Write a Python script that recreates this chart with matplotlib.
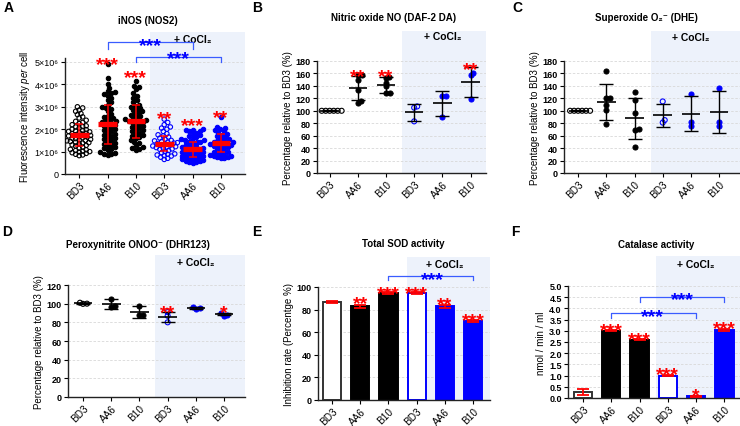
import numpy as np
import matplotlib.pyplot as plt
from matplotlib.patches import Rectangle

plt.rcParams['font.family'] = ['Liberation Sans', 'DejaVu Sans']
plt.rcParams['mathtext.fontset'] = 'custom'
plt.rcParams['mathtext.rm'] = 'Liberation Sans'
plt.rcParams['mathtext.it'] = 'Liberation Sans:italic'
plt.rcParams['mathtext.bf'] = 'Liberation Sans:bold'

BLUE = "#0000ff"
RED = "#ff0000"
SHADE = "#edf2fb"
GRID = "#d8d8d8"
BRACKET = "#3a5cff"

GROUPS = ["BD3", "AA6", "B10", "BD3", "AA6", "B10"]
FACES = ["none", "k", "k", "none", BLUE, BLUE]
EDGES = ["k", "k", "k", BLUE, BLUE, BLUE]

# ---- A: iNOS fluorescence per cell (x10^6) ----
A_BD3 = [0.82, 0.85, 0.88, 0.92, 0.95, 0.98, 1.0, 1.02, 1.05, 1.08, 1.1, 1.15, 1.2,
         1.25, 1.28, 1.3, 1.35, 1.38, 1.4, 1.42, 1.45, 1.48, 1.5, 1.52, 1.55, 1.58,
         1.6, 1.62, 1.65, 1.68, 1.7, 1.72, 1.75, 1.78, 1.8, 1.82, 1.85, 1.88, 1.9,
         1.92, 1.95, 1.98, 2.0, 2.05, 2.1, 2.12, 2.15, 2.2, 2.25, 2.3, 2.35, 2.4,
         2.5, 2.55, 2.65, 2.7, 2.8, 2.85, 2.95, 3.0]
A_AA6 = [4.9, 4.3, 4.0, 3.85, 3.7, 3.65, 3.6, 3.55, 3.5, 3.4, 3.3, 3.2, 3.1, 3.0,
         2.95, 2.9, 2.8, 2.7, 2.6, 2.55, 2.5, 2.45, 2.4, 2.35, 2.3, 2.28, 2.25, 2.2,
         2.15, 2.1, 2.05, 2.0, 1.95, 1.9, 1.85, 1.8, 1.75, 1.7, 1.65, 1.6, 1.55, 1.5,
         1.45, 1.4, 1.35, 1.3, 1.25, 1.2, 1.15, 1.1, 1.05, 1.0, 0.95, 0.9, 0.88, 0.86]
A_B10 = [4.15, 3.95, 3.9, 3.8, 3.6, 3.5, 3.4, 3.3, 3.2, 3.1, 3.05, 3.0, 2.95, 2.9,
         2.85, 2.8, 2.75, 2.7, 2.65, 2.6, 2.55, 2.5, 2.45, 2.42, 2.4, 2.38, 2.35,
         2.32, 2.3, 2.25, 2.2, 2.15, 2.1, 2.05, 2.0, 1.95, 1.9, 1.85, 1.8, 1.75, 1.7,
         1.65, 1.6, 1.5, 1.45, 1.4, 1.3, 1.2, 1.15, 1.1, 1.05]
A_BD3_CO = [2.45, 2.3, 2.2, 2.1, 2.05, 2.0, 1.9, 1.8, 1.75, 1.7, 1.65, 1.6, 1.55,
            1.5, 1.48, 1.45, 1.42, 1.4, 1.38, 1.35, 1.32, 1.3, 1.28, 1.25, 1.22, 1.2,
            1.18, 1.15, 1.12, 1.1, 1.05, 1.0, 0.95, 0.9, 0.88, 0.85, 0.82, 0.8, 0.75,
            0.7, 0.65]
A_AA6_CO = [2.0, 1.98, 1.95, 1.92, 1.9, 1.85, 1.8, 1.75, 1.7, 1.65, 1.6, 1.55, 1.52,
            1.5, 1.48, 1.45, 1.42, 1.4, 1.35, 1.3, 1.25, 1.2, 1.18, 1.15, 1.12, 1.1,
            1.08, 1.05, 1.02, 1.0, 0.98, 0.95, 0.92, 0.9, 0.88, 0.85, 0.82, 0.8, 0.78,
            0.75, 0.72, 0.7, 0.68, 0.65, 0.62, 0.6, 0.58, 0.55, 0.52, 0.5]
A_B10_CO = [2.55, 2.1, 2.05, 2.0, 1.95, 1.9, 1.85, 1.8, 1.75, 1.7, 1.65, 1.6, 1.55,
            1.5, 1.48, 1.45, 1.42, 1.4, 1.38, 1.35, 1.32, 1.3, 1.28, 1.25, 1.22, 1.2,
            1.15, 1.1, 1.05, 1.0, 0.98, 0.95, 0.9, 0.88, 0.85, 0.82, 0.8, 0.78, 0.75,
            0.72, 0.7]
A_POINTS = [A_BD3, A_AA6, A_B10, A_BD3_CO, A_AA6_CO, A_B10_CO]
A_MEAN = [1.74, 2.22, 2.35, 1.35, 1.10, 1.38]
A_SD = [0.48, 0.88, 0.74, 0.33, 0.35, 0.41]
A_YTICKS = [0, 1, 2, 3, 4, 5]
A_YTICKLABELS = ["0", "1×10⁶", "2×10⁶", "3×10⁶", "4×10⁶", "5×10⁶"]

# ---- B: nitric oxide, % of BD3 ----
B_POINTS = [[100, 100, 100, 100, 100, 100],
            [157, 157, 149, 133, 116, 113],
            [155, 153, 145, 140, 128, 128],
            [107, 105, 83],
            [124, 124, 90],
            [161, 158, 119]]
B_MEAN = [100, 137, 141, 97.5, 112, 146]
B_SD = [0.5, 19.5, 13, 13.5, 20, 24]

# ---- C: superoxide, % of BD3 ----
C_POINTS = [[100, 100, 100, 100, 100, 100],
            [164, 121, 120, 109, 101, 79],
            [130, 118, 96, 70, 69, 42],
            [115, 85, 81],
            [127, 82, 76],
            [136, 82, 75]]
C_MEAN = [100, 114, 88, 93, 95, 98]
C_SD = [0.5, 29, 33, 18.5, 28, 34]

# ---- D: peroxynitrite, % of BD3 ----
D_POINTS = [[101, 100, 99.8],
            [105, 97, 96.5],
            [97, 88, 88],
            [91, 87, 80],
            [96.5, 95, 94.5],
            [89.5, 88, 87]]
D_MEAN = [100.3, 99.5, 91, 85.5, 95.2, 88.6]
D_SD = [0.8, 5, 6, 5.5, 1, 1]

# ---- E: total SOD activity ----
E_VALUES = [87, 83, 94.5, 94.5, 83, 70]
E_ERR = [1, 1.5, 1, 1, 1.2, 0.6]

# ---- F: catalase activity ----
F_VALUES = [0.27, 3.0, 2.6, 1.0, 0.07, 3.04]
F_ERR = [0.13, 0.02, 0.02, 0.02, 0.04, 0.04]

W, H = 740, 427
fig = plt.figure(figsize=(W / 100, H / 100), dpi=100)


def add_ax(left, right, top, bottom):
    return fig.add_axes([left / W, 1 - bottom / H, (right - left) / W, (bottom - top) / H])


def style(ax, xlim, ylim, yticks, shade_from, shade_top, bold=True):
    ax.set_xlim(*xlim)
    ax.set_ylim(*ylim)
    ax.set_yticks(yticks)
    for s in ("top", "right"):
        ax.spines[s].set_visible(False)
    for s in ("left", "bottom"):
        ax.spines[s].set_linewidth(1.0)
        ax.spines[s].set_color("#222222")
    ax.tick_params(axis="both", length=3, width=0.8, labelsize=6.5, pad=1.5)
    ax.tick_params(axis="x", pad=1)
    ax.set_xticks(range(6))
    ax.set_xticklabels(GROUPS, rotation=45, ha="right", va="top",
                       rotation_mode="anchor", fontsize=7.2)
    ax.yaxis.grid(True, color=GRID, ls=(0, (3, 2)), lw=0.6)
    ax.set_axisbelow(True)
    if bold:
        for lbl in ax.get_yticklabels():
            lbl.set_fontweight("bold")
    ax.add_patch(Rectangle((shade_from, 0), xlim[1] - shade_from, shade_top,
                           transform=ax.get_xaxis_transform(), clip_on=False,
                           facecolor=SHADE, edgecolor="none", zorder=0.1))


def cocl(ax, y):
    ax.text(4, y, "+ CoCl₂", transform=ax.get_xaxis_transform(), ha="center",
            va="center", fontsize=7.5, fontweight="bold")


def stars(ax, x, y, s, color=RED, size=14):
    ax.annotate(s, (x, y), xytext=(0, -0.58 * size), textcoords="offset points",
                ha="center", va="baseline", color=color, fontsize=size,
                fontweight="bold", annotation_clip=False, zorder=6)


def bracket(ax, x0, x1, y, yend):
    ax.plot([x0, x0, x1, x1], [yend, y, y, yend], color=BRACKET, lw=0.9,
            clip_on=False, zorder=5)


def swarm(values, px_y, px_x, diam, gap):
    ys = np.asarray(values, float) * px_y
    xs = np.zeros(len(ys))
    placed = []
    step = diam * 0.2
    for i in np.argsort(ys):
        for k in range(400):
            c = ((k + 1) // 2) * (1 if k % 2 else -1) * step
            if all(np.hypot(c - px, ys[i] - py) >= diam * gap for px, py in placed):
                break
        xs[i] = c
        placed.append((c, ys[i]))
    return xs / px_x


def dots(ax, points, px_y, px_x, diam, gap, lw=0.8):
    for i, vals in enumerate(points):
        off = swarm(vals, px_y, px_x, diam, gap)
        ax.scatter(i + off, vals, s=(diam * 0.72) ** 2, facecolors=FACES[i],
                   edgecolors=EDGES[i], linewidths=lw, zorder=3)


def mean_sd(ax, means, sds, color, mlw, half, cap, elw):
    for i, (m, s) in enumerate(zip(means, sds)):
        ax.errorbar(i, m, yerr=s, fmt="none", ecolor=color, elinewidth=elw,
                    capsize=cap, capthick=elw, zorder=4)
        ax.hlines(m, i - half, i + half, color=color, lw=mlw, zorder=5)


def title(x, y, s):
    fig.text(x / W, 1 - y / H, s, ha="center", va="center", fontsize=7, fontweight="bold")


def letter(x, y, s):
    fig.text(x / W, 1 - y / H, s, ha="left", va="center", fontsize=10, fontweight="bold")


# ---------- A ----------
ax = add_ax(65, 245, 58.5, 175)
style(ax, (-0.5, 5.85), (0, 5.2), A_YTICKS, 2.5, 1.22, bold=False)
ax.set_yticklabels(A_YTICKLABELS)
dots(ax, A_POINTS, 22.4, 28.4, 4.4, 0.8)
mean_sd(ax, A_MEAN, A_SD, RED, 3.8, 0.33, 3, 1.1)
ax.set_ylabel(r"Fluorescence intensity $\it{per}$ cell", fontsize=7, labelpad=2)
for x, y, s in zip(range(6), [None, 5.2, 4.61, 2.76, 2.46, 2.83],
                   ["", "***", "***", "**", "***", "**"]):
    if s:
        stars(ax, x, y, s)
bracket(ax, 1, 4, 5.87, 5.6)
stars(ax, 2.5, 6.03, "***", BLUE)
bracket(ax, 2, 5, 5.23, 5.0)
stars(ax, 3.5, 5.45, "***", BLUE)
cocl(ax, 1.16)
title(148, 21, "iNOS (NOS2)")
letter(4, 8, "A")

# ---------- B ----------
ax = add_ax(317, 486, 62, 174)
style(ax, (-0.45, 5.55), (0, 180), range(0, 181, 20), 2.55, 1.268)
dots(ax, B_POINTS, 112 / 180, 28.3, 5, 0.62)
mean_sd(ax, B_MEAN, B_SD, "k", 1.2, 0.33, 5, 1.0)
ax.set_ylabel("Percentage relative to BD3 (%)", fontsize=7, labelpad=2)
stars(ax, 1, 165.5, "**")
stars(ax, 2, 165.5, "**")
stars(ax, 5, 177, "**")
cocl(ax, 1.22)
title(394, 18, "Nitric oxide NO (DAF-2 DA)")
letter(252, 8, "B")

# ---------- C ----------
ax = add_ax(564, 740, 62, 174)
style(ax, (-0.5, 5.74), (0, 180), range(0, 181, 20), 2.59, 1.268)
dots(ax, C_POINTS, 112 / 180, 28.2, 5, 0.62)
mean_sd(ax, C_MEAN, C_SD, "k", 1.2, 0.33, 5, 1.0)
ax.set_ylabel("Percentage relative to BD3 (%)", fontsize=7, labelpad=2)
cocl(ax, 1.21)
title(646, 18, "Superoxide O₂⁻ (DHE)")
letter(512, 8, "C")

# ---------- D ----------
ax = add_ax(68, 245, 286, 398)
style(ax, (-0.53, 5.74), (0, 120), range(0, 121, 20), 2.55, 1.268)
dots(ax, D_POINTS, 112 / 120, 28.2, 5, 0.62)
mean_sd(ax, D_MEAN, D_SD, "k", 1.2, 0.33, 5, 1.0)
ax.set_ylabel("Percentage relative to BD3 (%)", fontsize=7, labelpad=2)
stars(ax, 3, 97.5, "**")
stars(ax, 5, 97.5, "*")
cocl(ax, 1.205)
title(138, 245, "Peroxynitrite ONOO⁻ (DHR123)")
letter(2, 232, "D")

# ---------- E ----------
ax = add_ax(318, 490, 288, 401)
style(ax, (-0.5, 5.6), (0, 100), range(0, 101, 20), 2.67, 1.265)
ax.bar(range(6), E_VALUES, width=0.65, color=[f if f != "none" else "white" for f in FACES],
       edgecolor=["#333333", "k", "k", BLUE, BLUE, BLUE], linewidth=1.4, zorder=2)
ax.errorbar(range(6), E_VALUES, yerr=E_ERR, fmt="none", ecolor=RED, elinewidth=1.3,
            capsize=4, capthick=1.3, zorder=4)
ax.set_ylabel("Inhibition rate (Percentge %)", fontsize=7, labelpad=2)
for x, y, s in zip(range(6), [None, 91, 100, 100, 90, 76],
                   ["", "**", "***", "***", "**", "***"]):
    if s:
        stars(ax, x, y, s)
bracket(ax, 2, 5, 110, 106)
stars(ax, 3.55, 112.5, "***", BLUE)
cocl(ax, 1.20)
title(403, 244, "Total SOD activity")
letter(252, 232, "E")

# ---------- F ----------
ax = add_ax(568, 740, 287, 399)
style(ax, (-0.53, 5.55), (0, 5), np.arange(0, 5.01, 0.5), 2.58, 1.27)
ax.set_yticklabels([f"{v:.1f}" for v in np.arange(0, 5.01, 0.5)], fontweight="bold")
ax.bar(range(6), F_VALUES, width=0.65, color=[f if f != "none" else "white" for f in FACES],
       edgecolor=["#333333", "k", "k", BLUE, BLUE, BLUE], linewidth=1.4, zorder=2)
ax.errorbar(range(6), F_VALUES, yerr=F_ERR, fmt="none", ecolor=RED, elinewidth=1.3,
            capsize=4, capthick=1.3, zorder=4)
ax.set_ylabel("nmol / min / ml", fontsize=7, labelpad=2)
for x, y, s in zip(range(6), [None, 3.3, 2.89, 1.34, 0.4, 3.38],
                   ["", "***", "***", "***", "*", "***"]):
    if s:
        stars(ax, x, y, s)
bracket(ax, 1, 4, 3.8, 3.57)
stars(ax, 2.47, 3.93, "***", BLUE)
bracket(ax, 2, 5, 4.5, 4.28)
stars(ax, 3.5, 4.7, "***", BLUE)
cocl(ax, 1.196)
title(656, 245, "Catalase activity")
letter(511, 232, "F")

fig.savefig("out.png", dpi=100)
